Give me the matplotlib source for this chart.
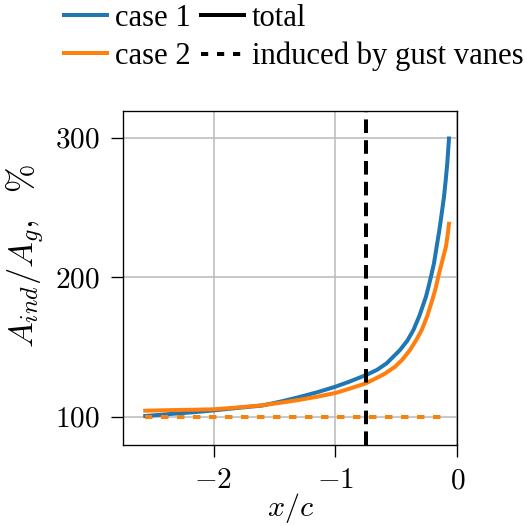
import numpy as np
import matplotlib
matplotlib.use('Agg')
import matplotlib.pyplot as plt
from matplotlib import ticker

plt.rcParams['font.family'] = ['Liberation Serif', 'DejaVu Serif']
plt.rcParams['mathtext.fontset'] = 'cm'

# amplification along the chord
x_case1 = [-2.56, -2.3, -2.15, -2.0, -1.8, -1.6, -1.45, -1.3, -1.15, -1.0,
           -0.88, -0.75, -0.66, -0.579, -0.47, -0.41, -0.36, -0.31, -0.257,
           -0.235, -0.216, -0.191, -0.17, -0.147, -0.128, -0.109, -0.095,
           -0.082, -0.068]
y_case1 = [100.5, 102.3, 103.3, 104.5, 106.3, 108.0, 110.8, 114.0, 117.5, 121.5,
           125.3, 129.8, 133.5, 138.3, 147.8, 154.5, 162.1, 172.5, 186.0,
           193.5, 200.4, 210.0, 221.5, 233.8, 245.5, 257.7, 269.5,
           281.6, 299.5]

x_case2 = [-2.56, -2.3, -2.15, -2.0, -1.8, -1.6, -1.45, -1.3, -1.15, -1.0,
           -0.88, -0.75, -0.6, -0.511, -0.45, -0.388, -0.34, -0.292, -0.245,
           -0.197, -0.175, -0.156, -0.125, -0.093, -0.08, -0.068]
y_case2 = [104.3, 104.8, 105.0, 105.3, 106.6, 108.2, 110.0, 112.0, 114.3, 117.0,
           120.2, 123.9, 130.5, 135.8, 141.0, 147.8, 154.5, 162.1, 172.5,
           186.0, 193.0, 200.4, 211.0, 221.9, 229.5, 238.3]

# part induced by the gust vanes alone
x_vanes = [-2.56, -0.068]
y_vanes = [100.0, 100.0]

x_wing = -0.75  # leading edge position

fig = plt.figure(figsize=(527/240, 526/240), dpi=240)
ax = fig.add_axes([0.234, 0.154, 0.6337, 0.6355])

c1, c2 = '#1f77b4', '#ff7f0e'
lw = 1.2
ax.plot(x_case1, y_case1, color=c1, lw=lw)
ax.plot(x_case2, y_case2, color=c2, lw=lw)
ax.plot(x_vanes, y_vanes, color=c1, lw=lw, dashes=(1.8, 2.2))
ax.plot(x_vanes, y_vanes, color=c2, lw=lw, dashes=(1.8, 2.2))
ax.axvline(x_wing, color='k', lw=lw, dashes=(3.4, 1.8))

ax.set_xlim(-2.74, 0.0)
ax.set_ylim(79.7, 319.4)
ax.set_xticks([-2, -1, 0])
ax.set_yticks([100, 200, 300])
fmt = ticker.FuncFormatter(lambda v, p: r'$%g$' % v)
ax.xaxis.set_major_formatter(fmt)
ax.yaxis.set_major_formatter(fmt)
ax.tick_params(labelsize=8.8, width=0.4, length=3.5, pad=3.5)
ax.grid(True, color='#b8b8b8', lw=0.45)
for s in ax.spines.values():
    s.set_linewidth(0.4)

ax.set_xlabel(r'$x/c$', fontsize=9, labelpad=-1)
ax.set_ylabel(r'$A_{ind}/A_g,\ \ \%$', fontsize=10.3)
ax.yaxis.set_label_coords(-0.232, 0.565)

handles = [
    plt.Line2D([], [], color=c1, lw=lw),
    plt.Line2D([], [], color=c2, lw=lw),
    plt.Line2D([], [], color='k', lw=lw),
    plt.Line2D([], [], color='k', lw=lw, dashes=(1.8, 2.2)),
]
labels = ['case 1', 'case 2', 'total', 'induced by gust vanes']
ax.legend(handles, labels, ncol=2, frameon=False, fontsize=9.2,
          loc='lower center', bbox_to_anchor=(0.51, 1.118),
          handlelength=1.4, handletextpad=0.25, columnspacing=0.35,
          labelspacing=0.3, borderpad=0, borderaxespad=0)

fig.savefig('out.png', dpi=240)
